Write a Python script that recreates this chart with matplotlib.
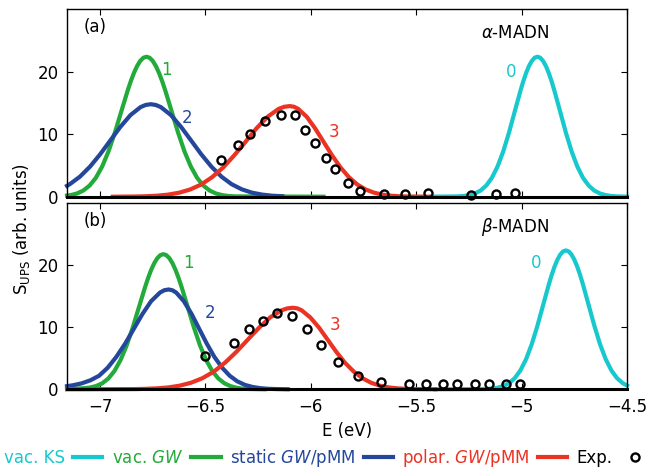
import matplotlib.pyplot as plt
from matplotlib.lines import Line2D

plt.rcParams['font.family'] = ['DejaVu Sans']
plt.rcParams['font.size'] = 12
plt.rcParams['mathtext.fontset'] = 'dejavusans'

# ---- (a) alpha-MADN ----
a_ks_e = [-5.43, -5.303, -5.276, -5.249, -5.222, -5.195, -5.168, -5.141, -5.114, -5.087, -5.060,
          -5.033, -5.006, -4.9925, -4.979, -4.9655, -4.952, -4.9385, -4.925, -4.9115, -4.898,
          -4.8845, -4.871, -4.8575, -4.844, -4.817, -4.790, -4.763, -4.736, -4.709, -4.682,
          -4.655, -4.628, -4.601, -4.574, -4.547, -4.5]
a_ks_s = [0.0, 0.05, 0.11, 0.25, 0.51, 0.98, 1.78, 3.03, 4.85, 7.27, 10.25, 13.59, 16.91, 18.43,
          19.77, 20.88, 21.71, 22.23, 22.40, 22.23, 21.71, 20.88, 19.77, 18.43, 16.91, 13.59,
          10.25, 7.27, 4.85, 3.03, 1.78, 0.98, 0.51, 0.25, 0.11, 0.05, 0.01]

a_gw_e = [-7.157, -7.14, -7.11, -7.08, -7.05, -7.02, -6.99, -6.96, -6.93, -6.90, -6.87, -6.855,
          -6.84, -6.825, -6.81, -6.795, -6.78, -6.765, -6.75, -6.735, -6.72, -6.705, -6.69,
          -6.66, -6.63, -6.60, -6.57, -6.54, -6.51, -6.48, -6.45, -6.42, -6.39, -6.36, -5.94]
a_gw_s = [0.18, 0.25, 0.51, 0.98, 1.78, 3.03, 4.85, 7.27, 10.25, 13.59, 16.91, 18.43, 19.77,
          20.88, 21.71, 22.23, 22.40, 22.23, 21.71, 20.88, 19.77, 18.43, 16.91, 13.59, 10.25,
          7.27, 4.85, 3.03, 1.78, 0.98, 0.51, 0.25, 0.11, 0.05, 0.0]

a_static_e = [-7.157, -7.144, -7.096, -7.048, -7.000, -6.952, -6.904, -6.856, -6.808, -6.784,
              -6.76, -6.736, -6.712, -6.664, -6.616, -6.568, -6.520, -6.472, -6.424, -6.376,
              -6.328, -6.280, -6.232, -6.184, -6.136]
a_static_s = [1.74, 2.00, 3.20, 4.81, 6.78, 8.98, 11.17, 13.06, 14.34, 14.68, 14.80, 14.68,
              14.34, 13.06, 11.17, 8.98, 6.78, 4.81, 3.20, 2.00, 1.18, 0.65, 0.34, 0.16, 0.08]

a_polar_e = [-6.94, -6.835, -6.783, -6.73, -6.678, -6.625, -6.573, -6.52, -6.468, -6.415,
             -6.363, -6.31, -6.258, -6.205, -6.153, -6.126, -6.10, -6.08, -6.06, -6.02, -5.98,
             -5.94, -5.90, -5.86, -5.82, -5.78, -5.74, -5.70, -5.66, -5.62, -5.58, -5.54, -5.44]
a_polar_s = [0.0, 0.03, 0.07, 0.16, 0.33, 0.64, 1.15, 1.96, 3.14, 4.71, 6.64, 8.79, 10.94,
             12.80, 14.05, 14.39, 14.50, 14.39, 14.05, 12.80, 10.94, 8.79, 6.64, 4.71, 3.14,
             1.96, 1.15, 0.64, 0.33, 0.16, 0.07, 0.03, 0.0]

a_exp_e = [-6.425, -6.348, -6.291, -6.218, -6.142, -6.077, -6.026, -5.982, -5.928, -5.884,
           -5.825, -5.768, -5.654, -5.555, -5.442, -5.242, -5.121, -5.033]
a_exp_s = [5.87, 8.22, 9.98, 12.16, 13.12, 13.07, 10.67, 8.54, 6.14, 4.38, 2.24, 0.85, 0.5,
           0.5, 0.64, 0.33, 0.5, 0.64]

# ---- (b) beta-MADN ----
b_ks_e = [-5.41, -5.168, -5.141, -5.114, -5.087, -5.060, -5.033, -5.006, -4.979, -4.952, -4.925,
          -4.898, -4.871, -4.8575, -4.844, -4.8305, -4.817, -4.8035, -4.79, -4.7765, -4.763,
          -4.7495, -4.736, -4.7225, -4.709, -4.682, -4.655, -4.628, -4.601, -4.574, -4.547,
          -4.520, -4.5]
b_ks_s = [0.0, 0.05, 0.11, 0.25, 0.51, 0.98, 1.78, 3.03, 4.85, 7.27, 10.25, 13.59, 16.91, 18.43,
          19.77, 20.88, 21.71, 22.23, 22.40, 22.23, 21.71, 20.88, 19.77, 18.43, 16.91, 13.59,
          10.25, 7.27, 4.85, 3.03, 1.78, 0.98, 0.61]

b_gw_e = [-7.157, -7.106, -7.077, -7.048, -7.019, -6.990, -6.961, -6.932, -6.903, -6.874,
          -6.845, -6.816, -6.787, -6.7725, -6.758, -6.7435, -6.729, -6.7145, -6.70, -6.6855,
          -6.671, -6.6565, -6.642, -6.6275, -6.613, -6.584, -6.555, -6.526, -6.497, -6.468,
          -6.439, -6.410, -6.381, -6.352, -6.323, -6.294, -6.22]
b_gw_s = [0.06, 0.12, 0.18, 0.28, 0.52, 0.96, 1.74, 2.95, 4.72, 7.08, 9.98, 13.22, 16.45,
          17.93, 19.24, 20.32, 21.13, 21.63, 21.80, 21.63, 21.13, 20.32, 19.24, 17.93, 16.45,
          13.22, 9.98, 7.08, 4.72, 2.95, 1.74, 0.96, 0.50, 0.24, 0.11, 0.05, 0.0]

b_static_e = [-7.157, -7.129, -7.088, -7.046, -7.005, -6.964, -6.923, -6.881, -6.84, -6.799,
              -6.758, -6.716, -6.696, -6.675, -6.657, -6.639, -6.603, -6.566, -6.53, -6.494,
              -6.458, -6.421, -6.385, -6.349, -6.313, -6.276, -6.24, -6.204, -6.168, -6.11]
b_static_s = [0.5, 0.65, 0.95, 1.45, 2.18, 3.48, 5.23, 7.37, 9.76, 12.15, 14.21, 15.60, 15.97,
              16.10, 15.97, 15.60, 14.21, 12.15, 9.76, 7.37, 5.23, 3.48, 2.18, 1.28, 0.71, 0.37,
              0.18, 0.08, 0.04, 0.0]

b_polar_e = [-7.157, -6.838, -6.784, -6.73, -6.676, -6.623, -6.569, -6.515, -6.461, -6.408,
             -6.354, -6.3, -6.246, -6.193, -6.139, -6.112, -6.085, -6.064, -6.044, -6.003,
             -5.961, -5.92, -5.879, -5.838, -5.796, -5.755, -5.714, -5.673, -5.631, -5.59,
             -5.549, -5.508, -5.41]
b_polar_s = [0.0, 0.03, 0.07, 0.15, 0.30, 0.58, 1.05, 1.78, 2.84, 4.27, 6.02, 7.98, 9.93,
             11.60, 12.74, 13.05, 13.15, 13.05, 12.74, 11.60, 9.93, 7.98, 6.02, 4.27, 2.84, 1.78,
             1.05, 0.58, 0.30, 0.15, 0.07, 0.03, 0.0]

b_exp_e = [-6.501, -6.367, -6.295, -6.229, -6.159, -6.091, -6.020, -5.950, -5.873, -5.778,
           -5.665, -5.535, -5.456, -5.374, -5.305, -5.223, -5.155, -5.076, -5.008]
b_exp_s = [5.37, 7.52, 9.73, 11.07, 12.26, 11.82, 9.73, 7.15, 4.35, 2.15, 1.13, 0.8, 0.8, 0.8,
           0.8, 0.8, 0.8, 0.8, 0.8]

xticks = [-7, -6.5, -6, -5.5, -5, -4.5]
xtick_labels = ['\u22127', '\u22126.5', '\u22126', '\u22125.5', '\u22125', '\u22124.5']
yticks = [0, 10, 20]

CYAN = '#17c8cc'
GREEN = '#22aa3a'
BLUE = '#24479b'
RED = '#eb3323'
colors = [CYAN, GREEN, BLUE, RED]
legend_labels = ['vac. KS', r'vac. $\mathit{GW}$', r'static $\mathit{GW}$/pMM',
                 r'polar. $\mathit{GW}$/pMM', 'Exp.']


def draw_panel(ax, curves, exp_e, exp_s, tags, letter, name):
    for (e, s), c in zip(curves, colors):
        ax.plot(e, s, color=c, lw=3, clip_on=False)
    ax.plot(exp_e, exp_s, ls='none', marker='o', ms=5.8, mfc='none', mec='black', mew=1.7,
            clip_on=False, zorder=4)
    for (x, y, t), c in zip(tags, colors):
        ax.text(x, y, t, color=c, ha='center', va='center', fontsize=12)
    ax.text(0.03, 0.905, letter, transform=ax.transAxes, ha='left', va='center')
    ax.text(0.80, 0.875, name, transform=ax.transAxes, ha='center', va='center')
    ax.set_xlim(-7.157, -4.5)
    ax.set_ylim(0, 30)
    ax.set_xticks(xticks)
    ax.set_xticklabels(xtick_labels)
    ax.set_yticks(yticks)
    ax.tick_params(direction='in', top=True, right=True, length=4, width=0.8, pad=6,
                   labelsize=12)
    for sp in ax.spines.values():
        sp.set_linewidth(1.0)
    ax.spines['bottom'].set_linewidth(2.2)


fig = plt.figure(figsize=(6.47, 4.68), dpi=100)
ax_a = fig.add_axes([0.1036, 0.5797, 0.8655, 0.4006])
ax_b = fig.add_axes([0.1036, 0.1682, 0.8655, 0.3974])

draw_panel(ax_a,
           [(a_ks_e, a_ks_s), (a_gw_e, a_gw_s), (a_static_e, a_static_s), (a_polar_e, a_polar_s)],
           a_exp_e, a_exp_s,
           [(-5.049, 20.0, '0'), (-6.686, 20.3, '1'), (-6.587, 12.6, '2'), (-5.888, 10.4, '3')],
           '(a)', r'$\alpha$-MADN')
ax_a.tick_params(labelbottom=False)

draw_panel(ax_b,
           [(b_ks_e, b_ks_s), (b_gw_e, b_gw_s), (b_static_e, b_static_s), (b_polar_e, b_polar_s)],
           b_exp_e, b_exp_s,
           [(-4.93, 20.4, '0'), (-6.583, 20.3, '1'), (-6.48, 12.3, '2'), (-5.884, 10.4, '3')],
           '(b)', r'$\beta$-MADN')

fig.text(0.0335, 0.511, r'S$_{\mathrm{UPS}}$ (arb. units)', rotation=90, ha='center',
         va='center')
fig.text(0.536, 0.079, 'E (eV)', ha='center', va='center')

handles = [Line2D([], [], color=c, lw=3) for c in colors]
handles.append(Line2D([], [], ls='none', marker='o', ms=5.8, mfc='none', mec='black', mew=1.7))
fig.legend(handles, legend_labels, loc='center', bbox_to_anchor=(0.505, 0.021), ncol=5,
           frameon=False, markerfirst=False, handlelength=1.75, handletextpad=0.5,
           columnspacing=0.55, borderaxespad=0, labelcolor=colors + ['black'])

fig.savefig('out.png', dpi=100)
